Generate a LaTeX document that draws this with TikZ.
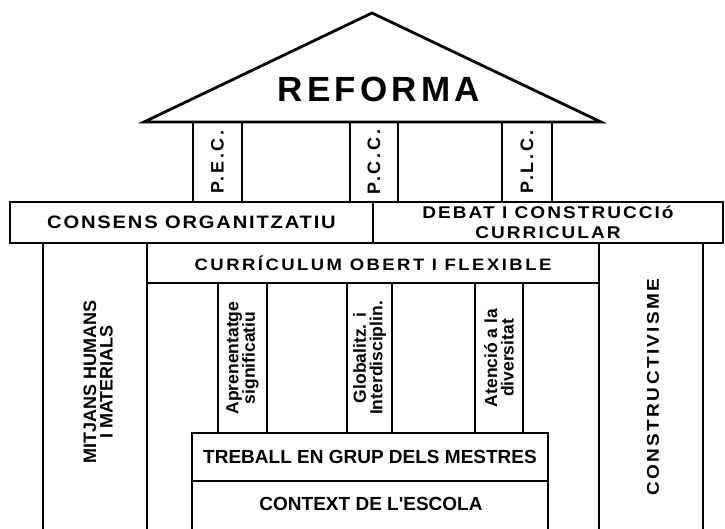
\documentclass[tikz,border=0pt]{standalone}
\usepackage{fontspec}
\setmainfont{Liberation Sans}
\usepackage{tikz}
\usetikzlibrary{positioning}
\tikzset{
  every picture/.style = {
    line width = 2.8pt,
    x = 1pt,
    y = -1pt
  }
  ,
  block/.style = {
    rectangle,
    draw,
    inner sep = 0pt,
    align = center
  }
  , % upright columns
  column/.style = {
    block,
    rotate = 90
  }
  , % spaced capitals: size, spacing
  label-caps/.style 2 args = {
    align = center,
    font = \bfseries\fontsize{#1}{20}\selectfont\addfontfeature{FakeStretch=1.12,LetterSpace=#2}
  }
  , % plain bold labels
  label-bold/.style = {
    align = center,
    font = \bfseries\fontsize{#1}{16.5}\selectfont
  }
}

\begin{document}
\begin{tikzpicture}
  \useasboundingbox (0,0) rectangle (725,529);
  % roof
  \coordinate (eave-l) at (144,122);
  \coordinate (apex) at (372,13);
  \coordinate (eave-r) at (601,122);
  \draw[line join=miter] (eave-l) -- (apex) -- (eave-r) -- cycle;
  \node[font=\bfseries\fontsize{35}{35}\selectfont\addfontfeature{LetterSpace=12}] (reforma) at (379,89) {REFORMA};
  % roof columns
  \node[column, minimum width=80pt, minimum height=49pt, font=\bfseries\fontsize{18}{18}\selectfont\addfontfeature{LetterSpace=15}] (pec) at (217.5,162) {P.E.C.};
  \node[column, minimum width=80pt, minimum height=48pt, font=\bfseries\fontsize{18}{18}\selectfont\addfontfeature{LetterSpace=15}] (pcc) at (374,162) {P.C.C.};
  \node[column, minimum width=80pt, minimum height=50pt, font=\bfseries\fontsize{18}{18}\selectfont\addfontfeature{LetterSpace=15}] (plc) at (527,162) {P.L.C.};
  % beam
  \node[block, minimum width=363pt, minimum height=41pt, label-caps={18}{10}] (consens) at (191.5,222.5) {CONSENS ORGANITZATIU};
  \node[block, minimum width=350pt, minimum height=41pt, label-caps={17}{12}] (debat) at (548,222.5) {DEBAT I CONSTRUCCIó\\CURRICULAR};
  % outer pillars
  \draw (43,243) -- (43,529);
  \draw (147,243) -- (147,529);
  \draw (599,243) -- (599,529);
  \draw (703,243) -- (703,529);
  \node[rotate=90, label-bold=18, text depth=0pt] (mitjans) at (98,382) {MITJANS HUMANS\\I MATERIALS};
  \node[rotate=90, label-caps={17}{14}] (constr) at (653,387) {CONSTRUCTIVISME};
  % curriculum
  \node[block, minimum width=452pt, minimum height=40pt, label-caps={16.5}{15}] (curric) at (373,263) {CURRÍCULUM OBERT I FLEXIBLE};
  \node[column, minimum width=150pt, minimum height=49pt, label-bold=17.5] (apren) at (242.5,358) {Aprenentatge\\significatiu};
  \node[column, minimum width=150pt, minimum height=45pt, label-bold=17.5] (global) at (369.5,358) {Globalitz. i\\Interdisciplin.};
  \node[column, minimum width=150pt, minimum height=48pt, label-bold=17.5] (atencio) at (499,358) {Atenció a la\\diversitat};
  % base
  \node[block, minimum width=356pt, minimum height=48pt, label-bold=19] (treball) at (370,457) {TREBALL EN GRUP DELS MESTRES};
  \draw (192,481) -- (192,529);
  \draw (548,481) -- (548,529);
  \node[label-bold=19] (context) at (371,504) {CONTEXT DE L\textquotesingle ESCOLA};
\end{tikzpicture}
\end{document}
